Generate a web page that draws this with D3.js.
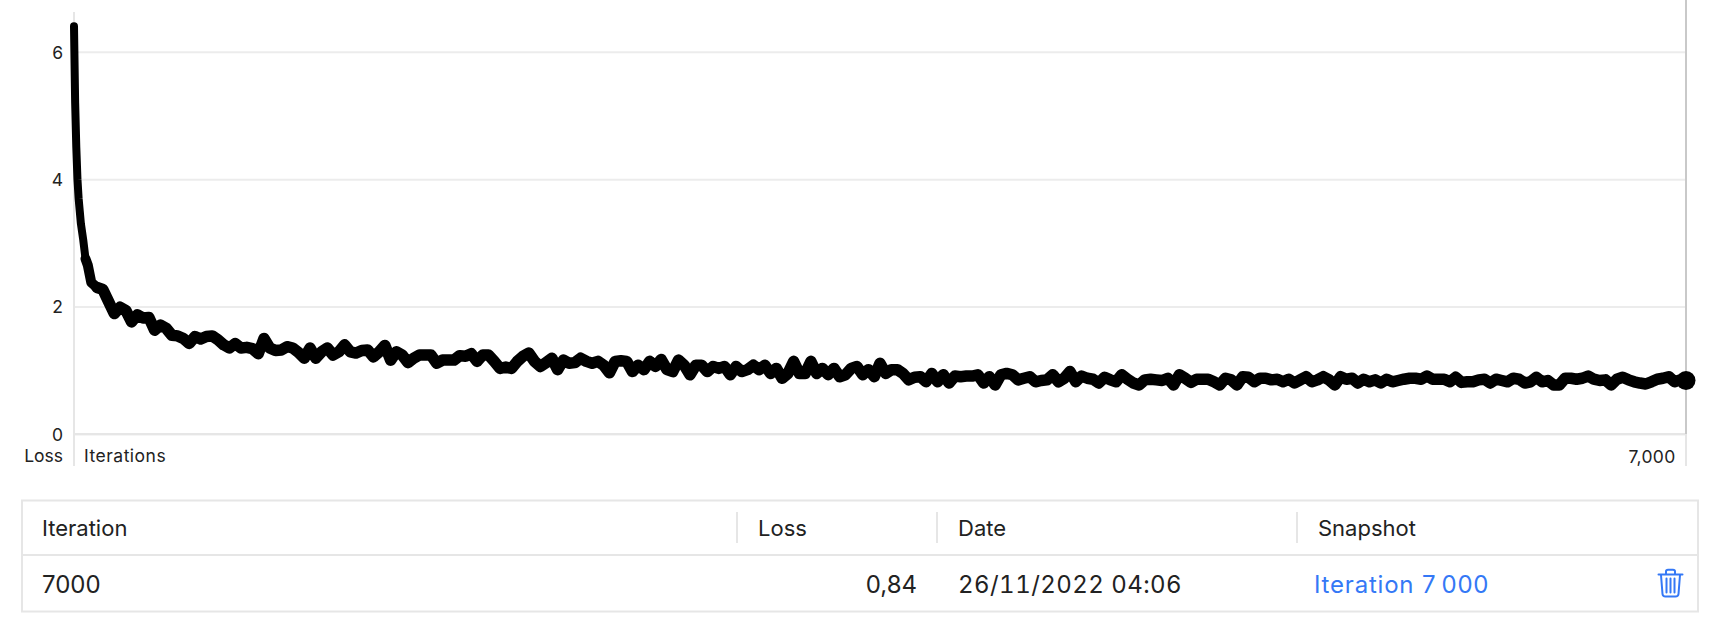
<!DOCTYPE html>
<html><head><meta charset="utf-8">
<script src="https://cdn.jsdelivr.net/npm/d3@7"></script>
<style>
html,body{margin:0;padding:0;background:#fff}
svg{display:block}
text{font-family:Inter,"Open Sans",sans-serif;fill:#222}
</style></head><body><svg id="c" width="1736" height="628"></svg>
<script>
const earlyIterations=[0,5,10,15,20,25,30,40,50,60,75];
const lossEarly=[6.4,5.2,4.5,4.0,3.7,3.5,3.3,3.05,2.75,2.65,2.38];
const lossPart1=[2.3,2.27,2.08,1.89,1.99,1.94,1.76,1.87,1.82,1.83,1.63,1.71,1.66,1.55,1.54,1.50,1.42,1.53,1.49,1.53,1.54,1.48,1.40,1.35,1.42,1.35,1.36,1.34,1.26,1.50,1.35,1.31,1.32,1.37,1.35,1.28,1.19,1.35,1.19,1.29,1.35,1.24,1.29,1.40,1.29,1.27,1.31,1.32,1.21,1.29,1.39,1.16,1.29,1.24,1.12,1.19,1.24,1.24,1.24,1.11,1.16,1.16,1.16,1.23,1.22,1.26,1.14,1.24,1.24,1.14,1.03,1.05,1.03,1.14,1.22,1.27,1.14,1.06,1.12,1.19,1.01];
const lossPart2=[1.16,1.11,1.12,1.19,1.14,1.11,1.14,1.08,.96,1.14,1.15,1.14,.98,1.08,1.01,1.14,1.06,1.17,1.01,.98,1.16,1.08,.93,1.08,1.08,.98,1.06,1.03,1.06,.93,1.06,.98,1.01,1.08,1.01,1.08,.95,1.03,.875,.95,1.14,.95,.95,1.14,.95,1.03,.93,1.03,.90,.93,1.03,1.06,.93,1.01,.90,1.11,.95,1.01,1.01,.95,.85,.89,.90,.82,.95,.82,.93,.80,.91,.90,.91,.91,.93,.80,.90,.77,.93,.95,.93,.85,.875,.90,.82,.84,.85,.93,.82];
const lossPart3=[.875,.98,.82,.91,.875,.86,.80,.89,.85,.82,.93,.86,.80,.77,.85,.86,.85,.84,.875,.77,.93,.875,.81,.86,.86,.86,.82,.77,.875,.85,.77,.90,.89,.82,.875,.875,.85,.86,.82,.86,.80,.85,.90,.82,.85,.90,.85,.77,.90,.86,.875,.80,.86,.82,.85,.80,.86,.82,.84,.86,.875,.875,.86,.91,.86,.86,.86,.82,.89,.81,.82,.82,.85,.86,.80,.86,.84,.82,.875,.86,.80,.82,.89,.82,.84,.77];
const lossPart4=[.77,.875,.875,.86,.875,.91,.86,.84,.85,.77,.86,.89,.85,.82,.80,.785,.82,.86,.875,.90,.82,.85,.84];
const lossTicks=[0,2,4,6];
const iterTicks=[7000];
const tableHeaders=["Iteration","Loss","Date","Snapshot"];
const tableRow=["7000","0,84","26/11/2022 04:06","Iteration 7\u2009000"];

const lossValues=lossEarly.concat(lossPart1,lossPart2,lossPart3,lossPart4);
const iterations=earlyIterations.concat(d3.range(100,7001,25));
const points=iterations.map((it,i)=>[it,lossValues[i]]);

const svg=d3.select("#c");
const x=d3.scaleLinear().domain([0,7000]).range([74,1686]);
const y=d3.scaleLinear().domain([0,6]).range([434,51.8]);
const light="#e6e6e6";

const gy=svg.append("g").attr("transform","translate(74,0)")
  .call(d3.axisLeft(y).tickValues(lossTicks).tickSize(-1612).tickFormat(d3.format("d")));
gy.select(".domain").remove();
gy.selectAll("line").attr("stroke","#ececec").attr("stroke-width",2);
gy.selectAll("text").attr("font-size",17.5).attr("dy","0.36em").attr("x",-11).style("font-family","Inter");

svg.append("line").attr("x1",74).attr("x2",74).attr("y1",12).attr("y2",466).attr("stroke",light).attr("stroke-width",2);
svg.append("line").attr("x1",74).attr("x2",1686).attr("y1",434).attr("y2",434).attr("stroke",light).attr("stroke-width",2);
svg.append("line").attr("x1",1686).attr("x2",1686).attr("y1",0).attr("y2",434).attr("stroke","#c9c9c9").attr("stroke-width",2);
svg.append("line").attr("x1",1686).attr("x2",1686).attr("y1",434).attr("y2",466).attr("stroke",light).attr("stroke-width",2);

const gx=svg.append("g").attr("transform","translate(0,434)")
  .call(d3.axisBottom(x).tickValues(iterTicks).tickSize(0).tickFormat(d3.format(",")));
gx.select(".domain").remove();
gx.selectAll("text").attr("font-size",17.5).attr("letter-spacing",0.3).attr("text-anchor","end").attr("x",-11).attr("y",28.5).attr("dy",0).style("font-family","Inter");
svg.append("text").attr("x",63).attr("y",461.5).attr("font-size",17.5).attr("text-anchor","end").text("Loss");
svg.append("text").attr("x",84).attr("y",461.5).attr("font-size",17.5).attr("letter-spacing",0.5).text("Iterations");

const line=d3.line().x(d=>x(d[0])).y(d=>y(d[1])).curve(d3.curveLinear);
const stroke=(data,w)=>svg.append("path").datum(data).attr("d",line).attr("fill","none").attr("stroke","#000")
  .attr("stroke-width",w).attr("stroke-linejoin","round").attr("stroke-linecap","round");
stroke(points.slice(0,10),8);
stroke(points.slice(8,13),10);
stroke(points.slice(11),11.5);
const last=points[points.length-1];
svg.append("circle").attr("cx",x(last[0])).attr("cy",y(last[1])).attr("r",9.5).attr("fill","#000");

const tbl=svg.append("g");
tbl.append("rect").attr("x",22).attr("y",500.5).attr("width",1676).attr("height",111).attr("fill","none").attr("stroke",light).attr("stroke-width",2);
tbl.append("line").attr("x1",22).attr("x2",1698).attr("y1",555).attr("y2",555).attr("stroke",light).attr("stroke-width",2);
[737,937,1297].forEach(px=>tbl.append("line").attr("x1",px).attr("x2",px).attr("y1",512).attr("y2",543).attr("stroke",light).attr("stroke-width",2));
const headerX=[42,758,958,1318];
tbl.selectAll(".h").data(tableHeaders).join("text").attr("class","h")
  .attr("x",(d,i)=>headerX[i]).attr("y",535.5).attr("font-size",22).text(d=>d);
const rowX=[42,917,958,1314];
const rowAnchor=["start","end","start","start"];
const rowSpacing=[0,0,0.45,0.8];
tbl.selectAll(".r").data(tableRow).join("text").attr("class","r")
  .attr("x",(d,i)=>rowX[i]).attr("y",593).attr("font-size",24)
  .attr("letter-spacing",(d,i)=>rowSpacing[i]).style("font-feature-settings",(d,i)=>i===2?'"tnum"':null)
  .attr("text-anchor",(d,i)=>rowAnchor[i]).style("fill",(d,i)=>i===3?"#3478f6":"#222").text(d=>d);

const blue="#3478f6";
const ic=tbl.append("g").attr("transform","translate(1658,569)").attr("fill","none").attr("stroke",blue).attr("stroke-width",2).attr("stroke-linecap","round").attr("stroke-linejoin","round");
ic.append("path").attr("d","M0.5 5.5H24.5");
ic.append("path").attr("d","M8 5V2.5Q8 0.8 10 0.8H15Q17 0.8 17 2.5V5");
ic.append("path").attr("d","M3 6L4.5 25Q4.7 27.5 7.5 27.5H17.5Q20.3 27.5 20.5 25L22 6");
ic.append("path").attr("d","M8.5 9.5V23.5M12.5 9.5V23.5M16.5 9.5V23.5");
</script></body></html>
